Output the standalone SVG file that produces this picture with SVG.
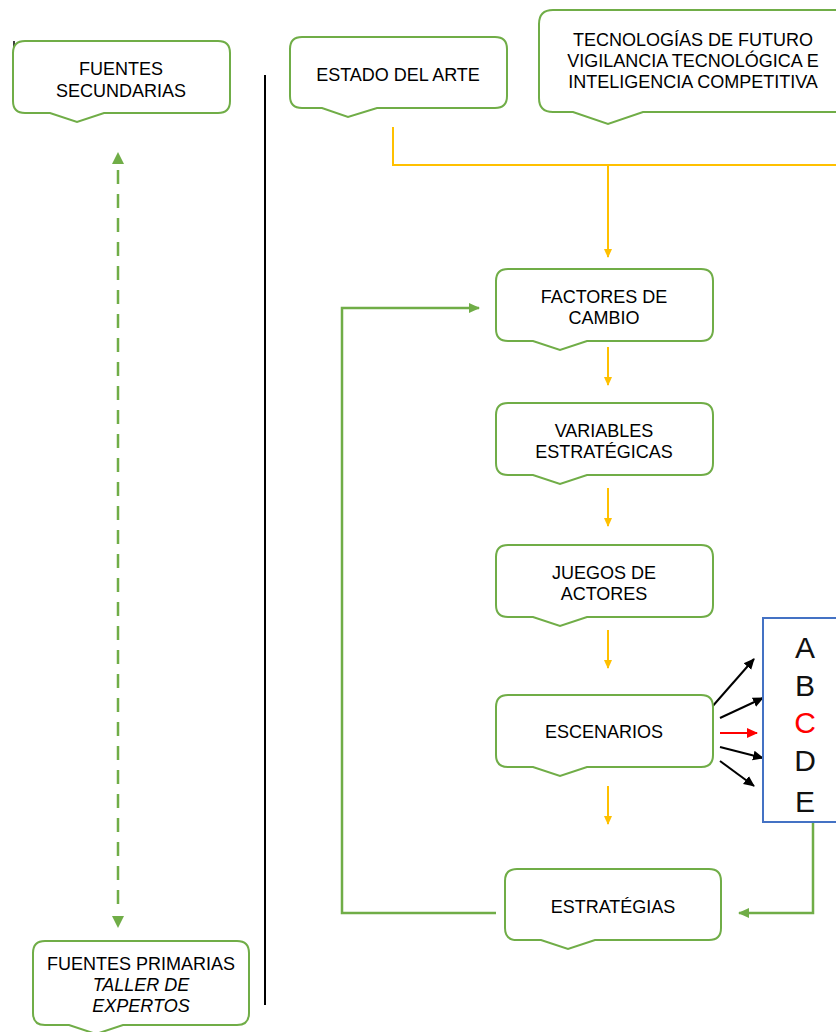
<svg xmlns="http://www.w3.org/2000/svg" width="836" height="1032" viewBox="0 0 836 1032">
<defs>
<style>
.box{fill:#fff;stroke:#70AD47;stroke-width:2}
.t{font-family:"Liberation Sans",Arial,sans-serif;font-size:18px;fill:#000;text-anchor:middle}
.it{font-style:italic}
.y{stroke:#FFC000;stroke-width:2;fill:none}
.g{stroke:#70AD47;stroke-width:2.5;fill:none}
.k{stroke:#000;stroke-width:2;fill:none}
.r{stroke:#FF0000;stroke-width:2;fill:none}
.L{font-family:"Liberation Sans",Arial,sans-serif;font-size:30px;text-anchor:middle;fill:#111}
</style>
<marker id="ay" markerWidth="10" markerHeight="10" refX="8" refY="5" orient="auto" markerUnits="userSpaceOnUse"><path d="M0,1 L9,5 L0,9 Z" fill="#FFC000"/></marker>
<marker id="ag" markerWidth="12" markerHeight="12" refX="10" refY="6" orient="auto" markerUnits="userSpaceOnUse"><path d="M0,1 L11,6 L0,11 Z" fill="#70AD47"/></marker>
<marker id="ak" markerWidth="12" markerHeight="12" refX="10" refY="6" orient="auto" markerUnits="userSpaceOnUse"><path d="M0,1 L11,6 L0,11 Z" fill="#000"/></marker>
<marker id="ar" markerWidth="12" markerHeight="12" refX="10" refY="6" orient="auto" markerUnits="userSpaceOnUse"><path d="M0,1 L11,6 L0,11 Z" fill="#FF0000"/></marker>
</defs>
<rect width="836" height="1032" fill="#fff"/>
<g id="connectors">
<line x1="14" y1="41" x2="14" y2="56" stroke="#000" stroke-width="1.5"/>
<line x1="265" y1="75" x2="265" y2="1005" stroke="#000" stroke-width="2"/>
<path class="y" d="M393,127 V165 H836"/>
<path class="y" d="M608,165 V257" marker-end="url(#ay)"/>
<path class="y" d="M608,347 V385" marker-end="url(#ay)"/>
<path class="y" d="M608,488 V526" marker-end="url(#ay)"/>
<path class="y" d="M608,630 V668" marker-end="url(#ay)"/>
<path class="y" d="M608,786 V824" marker-end="url(#ay)"/>
<line class="k" x1="711" y1="708" x2="754" y2="659" marker-end="url(#ak)"/>
<line class="k" x1="720" y1="718" x2="763" y2="698" marker-end="url(#ak)"/>
<line class="r" x1="720" y1="733" x2="757" y2="733" marker-end="url(#ar)"/>
<line class="k" x1="720" y1="747" x2="763" y2="758" marker-end="url(#ak)"/>
<line class="k" x1="720" y1="761" x2="754" y2="786" marker-end="url(#ak)"/>
<path class="g" d="M813,823 V913 H739" marker-end="url(#ag)"/>
<path class="g" d="M496,913 H342 V308 H479" marker-end="url(#ag)"/>
<line class="g" x1="118" y1="170" x2="118" y2="910" stroke-dasharray="14,10"/>
<path d="M112,164 L118,152 L124,164 Z" fill="#70AD47"/>
<path d="M112,916 L118,928 L124,916 Z" fill="#70AD47"/>
</g>
<g id="fuentes-secundarias">
<path class="box" d="M25,41 H218 Q230,41 230,53 V101 Q230,113 218,113 H104 L77,122 L50,113 H25 Q13,113 13,101 V53 Q13,41 25,41 Z"/>
<text class="t" x="121" y="75">FUENTES</text>
<text class="t" x="121" y="97">SECUNDARIAS</text>
</g>
<g id="estado-del-arte">
<path class="box" d="M302,37 H495 Q507,37 507,49 V96 Q507,108 495,108 H377 L348,117 L322,108 H302 Q290,108 290,96 V49 Q290,37 302,37 Z"/>
<text class="t" x="398" y="81">ESTADO DEL ARTE</text>
</g>
<g id="tecnologias">
<path class="box" d="M553,10 H850 V112 H643 L608,124 L573,112 H553 Q539,112 539,98 V24 Q539,10 553,10 Z"/>
<text class="t" x="693" y="46">TECNOLOGÍAS DE FUTURO</text>
<text class="t" x="693" y="67">VIGILANCIA TECNOLÓGICA E</text>
<text class="t" x="693" y="88">INTELIGENCIA COMPETITIVA</text>
</g>
<g id="factores">
<path class="box" d="M508,269 H701 Q713,269 713,281 V329 Q713,341 701,341 H587 L560,350 L533,341 H508 Q496,341 496,329 V281 Q496,269 508,269 Z"/>
<text class="t" x="604" y="303">FACTORES DE</text>
<text class="t" x="604" y="324">CAMBIO</text>
</g>
<g id="variables">
<path class="box" d="M508,403 H701 Q713,403 713,415 V463 Q713,475 701,475 H587 L560,484 L533,475 H508 Q496,475 496,463 V415 Q496,403 508,403 Z"/>
<text class="t" x="604" y="437">VARIABLES</text>
<text class="t" x="604" y="458">ESTRATÉGICAS</text>
</g>
<g id="juegos">
<path class="box" d="M508,545 H701 Q713,545 713,557 V605 Q713,617 701,617 H587 L560,626 L533,617 H508 Q496,617 496,605 V557 Q496,545 508,545 Z"/>
<text class="t" x="604" y="579">JUEGOS DE</text>
<text class="t" x="604" y="600">ACTORES</text>
</g>
<g id="escenarios">
<path class="box" d="M508,695 H701 Q713,695 713,707 V755 Q713,767 701,767 H587 L560,776 L533,767 H508 Q496,767 496,755 V707 Q496,695 508,695 Z"/>
<text class="t" x="604" y="738">ESCENARIOS</text>
</g>
<g id="escenarios-lista">
<rect x="763" y="618" width="80" height="204" fill="#fff" stroke="#4472C4" stroke-width="2"/>
<text class="L" x="805" y="658">A</text>
<text class="L" x="805" y="696">B</text>
<text class="L" x="805" y="733" style="fill:#FF0000">C</text>
<text class="L" x="805" y="771">D</text>
<text class="L" x="805" y="812">E</text>
</g>
<g id="estrategias">
<path class="box" d="M517,869 H709 Q721,869 721,881 V928 Q721,940 709,940 H595 L568,949 L541,940 H517 Q505,940 505,928 V881 Q505,869 517,869 Z"/>
<text class="t" x="613" y="913">ESTRATÉGIAS</text>
</g>
<g id="fuentes-primarias">
<path class="box" d="M45,941 H237 Q249,941 249,953 V1013 Q249,1025 237,1025 H123 L96,1034 L69,1025 H45 Q33,1025 33,1013 V953 Q33,941 45,941 Z"/>
<text class="t" x="141" y="970">FUENTES PRIMARIAS</text>
<text class="t it" x="141" y="991">TALLER DE</text>
<text class="t it" x="141" y="1012">EXPERTOS</text>
</g>
</svg>
